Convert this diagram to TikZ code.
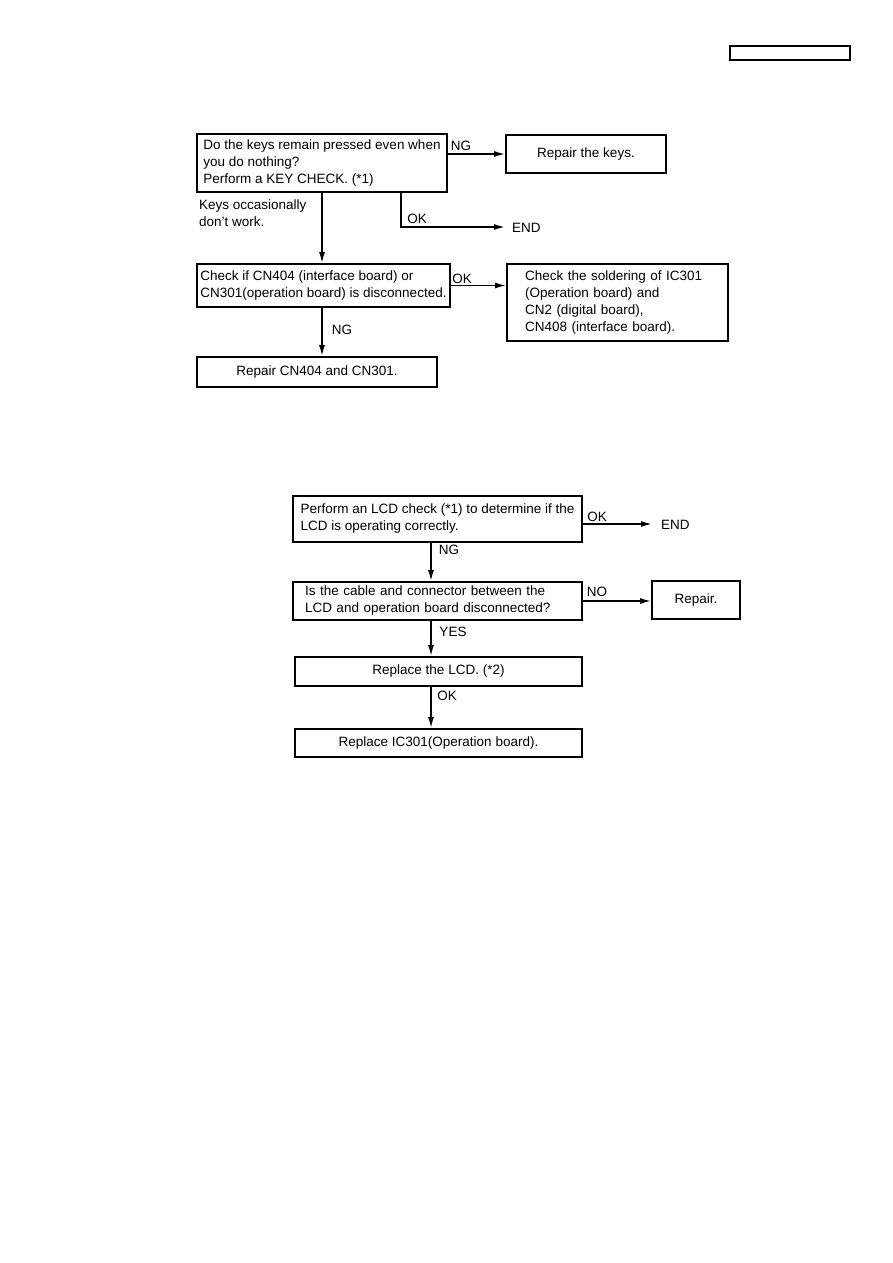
\documentclass[tikz,border=0pt]{standalone}
\usepackage{fontspec}
\setmainfont{Liberation Sans}
\usepackage{tikz}
\usetikzlibrary{arrows.meta, positioning}

\begin{document}
\begin{tikzpicture}[
  x=1pt, y=-1pt,
  font=\fontsize{13.5}{17}\selectfont,
  box/.style={rectangle, draw, line width=1.8pt, inner xsep=6pt, inner ysep=2pt, text centered},
  lbox/.style={box, align=left},
  arrow/.style={-{Latex[length=11pt,width=6pt]}, line width=1.6pt},
  tag/.style={inner sep=0pt}
]
\useasboundingbox (0,0) rectangle (893,1263);

% --- page mark ---
\node[rectangle, draw, line width=1.3pt, minimum width=120pt, minimum height=14pt] (hdr) at (790,53) {};

% --- Keys check ---
\node[lbox, minimum width=250pt, minimum height=58pt] (keys) at (322,163)
  {Do the keys remain pressed even when\\you do nothing?\\Perform a KEY CHECK. (*1)};
\node[box, minimum width=160pt, minimum height=38pt] (fixkeys) at (586,154) {Repair the keys.};
\node[tag, anchor=west] (end1) at (512,228) {END};
\node[tag, anchor=north west, align=left] (occas) at (199,200) {Keys occasionally\\don't work.};

\node[lbox, inner xsep=3pt, minimum width=253pt, minimum height=43pt] (cnchk) at (323.5,285.5)
  {Check if CN404 (interface board) or\\CN301(operation board) is disconnected.};
\node[box, align=left, inner xsep=18pt, text width=185pt, minimum width=221pt, minimum height=77pt] (solder) at (617.5,302.5)
  {Check the soldering of IC301\\(Operation board) and\\CN2 (digital board),\\CN408 (interface board).};
\node[box, minimum width=240pt, minimum height=30pt] (repcn) at (317,372) {Repair CN404 and CN301.};

\draw[arrow] (keys.east |- fixkeys) -- (fixkeys.west);
\node[tag] (ng1) at (461,146) {NG};
\draw[arrow] (keys.south) -- (keys.south |- cnchk.north);
\draw[arrow, shorten >=7pt] ([xshift=79pt]keys.south) |- ([yshift=1pt]end1.west);
\node[tag] (ok1) at (417,219) {OK};
\draw[arrow] (cnchk.east) -- (cnchk.east -| solder.west);
\node[tag] (ok2) at (462,279) {OK};
\draw[arrow] ([xshift=-1.5pt]cnchk.south) -- ([xshift=-1.5pt]cnchk.south |- repcn.north);
\node[tag] (ng2) at (342,330) {NG};

% --- LCD check ---
\coordinate (spine) at (431,0);
\node[lbox, minimum width=289pt, minimum height=46pt] (lcdchk) at (437.5,519)
  {Perform an LCD check (*1) to determine if the\\LCD is operating correctly.};
\node[tag, anchor=west] (end2) at (661,525) {END};
\draw[arrow, shorten >=9pt] ([yshift=-5pt]lcdchk.east) -- ([yshift=-5pt]lcdchk.east -| end2.west);
\node[tag] (ok3) at (597,517) {OK};
\node[box, align=left, inner xsep=12pt, text width=265pt, minimum width=289pt, minimum height=38pt] (cable) at (437.5,601)
  {Is the cable and connector between the\\LCD and operation board disconnected?};
\node[box, minimum width=88pt, minimum height=38pt] (repair) at (696,600) {Repair.};
\node[box, minimum width=287pt, minimum height=29pt] (replcd) at (438.5,671.5) {Replace the LCD. (*2)};
\node[box, minimum width=287pt, minimum height=28pt] (replic) at (438.5,743) {Replace IC301(Operation board).};

\draw[arrow] (lcdchk.south -| spine) -- (cable.north -| spine);
\node[tag] (ng3) at (449,550) {NG};
\draw[arrow] (cable.east) -- (cable.east -| repair.west);
\node[tag] (no1) at (597,592) {NO};
\draw[arrow] (cable.south -| spine) -- (replcd.north -| spine);
\node[tag] (yes1) at (453,632) {YES};
\draw[arrow] (replcd.south -| spine) -- (replic.north -| spine);
\node[tag] (ok4) at (447,696) {OK};

\end{tikzpicture}
\end{document}
